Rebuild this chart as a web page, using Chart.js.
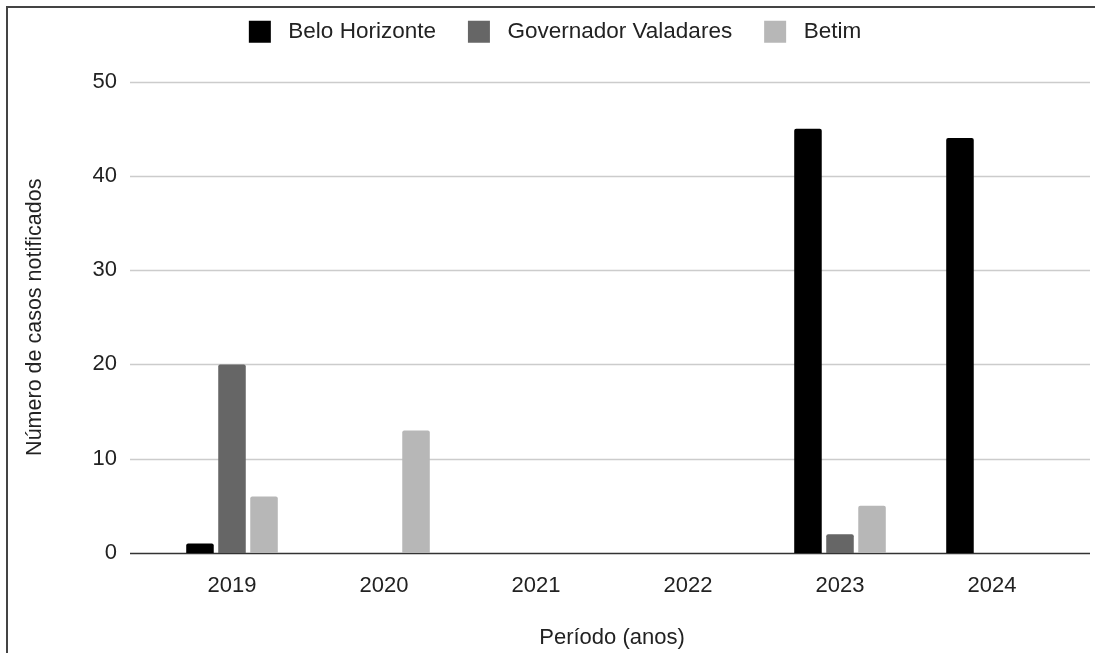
<!DOCTYPE html>
<html>
<head>
<meta charset="utf-8">
<script src="https://cdn.jsdelivr.net/npm/chart.js@4/dist/chart.umd.min.js"></script>
<style>
  html, body { margin: 0; padding: 0; background: #fff; }
  #wrap { position: relative; width: 1095px; height: 653px; overflow: hidden; }
  #frame {
    position: absolute; left: 6px; top: 6px; width: 1200px; height: 800px;
    border-left: 2px solid #444; border-top: 2px solid #444; pointer-events: none;
  }
</style>
</head>
<body>
<div id="wrap">
  <canvas id="casesChart" width="1095" height="653"></canvas>
  <div id="frame"></div>
</div>
<script>
// data
const years = ["2019", "2020", "2021", "2022", "2023", "2024"];
const beloHorizonte = [1, 0, 0, 0, 45, 44];
const governadorValadares = [20, 0, 0, 0, 2, 0];
const betim = [6, 13, 0, 0, 5, 0];
const yTicks = [0, 10, 20, 30, 40, 50];

const FONT = "'Liberation Sans', Arial, sans-serif";
const TEXT = "#222222";

// gridlines reach past the category area, like the original
const wideGrid = {
  id: "wideGrid",
  beforeDatasetsDraw(chart) {
    const ctx = chart.ctx;
    const y = chart.scales.y;
    ctx.save();
    yTicks.forEach(v => {
      const py = Math.round(y.getPixelForValue(v)) + 0.5;
      ctx.beginPath();
      ctx.strokeStyle = v === 0 ? "#333333" : "#cccccc";
      ctx.lineWidth = 1.5;
      ctx.moveTo(130, py);
      ctx.lineTo(1090, py);
      ctx.stroke();
    });
    ctx.restore();
  }
};

// more room under the legend, and nudge it right
const legendSpace = {
  id: "legendSpace",
  beforeInit(chart) {
    const fit = chart.legend.fit;
    chart.legend.fit = function() {
      fit.bind(chart.legend)();
      this.height += 28.5;
    };
  },
  afterLayout(chart) {
    chart.legend.left += 17;
    chart.legend.right += 17;
  }
};

const ctx = document.getElementById("casesChart").getContext("2d");
new Chart(ctx, {
  type: "bar",
  data: {
    labels: years,
    datasets: [
      { label: "Belo Horizonte", data: beloHorizonte, backgroundColor: "#000000" },
      { label: "Governador Valadares", data: governadorValadares, backgroundColor: "#666666" },
      { label: "Betim", data: betim, backgroundColor: "#b7b7b7" }
    ]
  },
  options: {
    responsive: false,
    animation: false,
    devicePixelRatio: 1,
    categoryPercentage: 0.632,
    barPercentage: 0.86,
    borderRadius: 2,
    layout: { padding: { top: -11.5, left: 8, right: 27, bottom: 0 } },
    plugins: {
      legend: {
        position: "top",
        labels: {
          boxWidth: 22,
          boxHeight: 22,
          padding: 32,
          color: TEXT,
          font: { family: FONT, size: 22.5 },
          generateLabels(chart) {
            const items = Chart.defaults.plugins.legend.labels.generateLabels(chart);
            items.forEach(it => { it.text = " " + it.text; it.lineWidth = 0; });
            return items;
          }
        }
      },
      tooltip: { enabled: false }
    },
    scales: {
      x: {
        grid: { display: false },
        border: { display: false },
        ticks: { color: TEXT, padding: 12, font: { family: FONT, size: 22 } },
        title: {
          display: true,
          text: "Período (anos)",
          color: TEXT,
          padding: { top: 4, bottom: 2 },
          font: { family: FONT, size: 22 }
        },
        afterFit(scale) { scale.height = 100; }
      },
      y: {
        min: 0,
        max: 50,
        grid: { display: false },
        border: { display: false },
        ticks: {
          stepSize: 10,
          color: TEXT,
          padding: 31,
          font: { family: FONT, size: 22 }
        },
        title: {
          display: true,
          text: "Número de casos notificados",
          color: TEXT,
          padding: { top: 14, bottom: 0 },
          font: { family: FONT, size: 21.5 }
        },
        afterFit(scale) { scale.width = 148; }
      }
    }
  },
  plugins: [wideGrid, legendSpace]
});
</script>
</body>
</html>
